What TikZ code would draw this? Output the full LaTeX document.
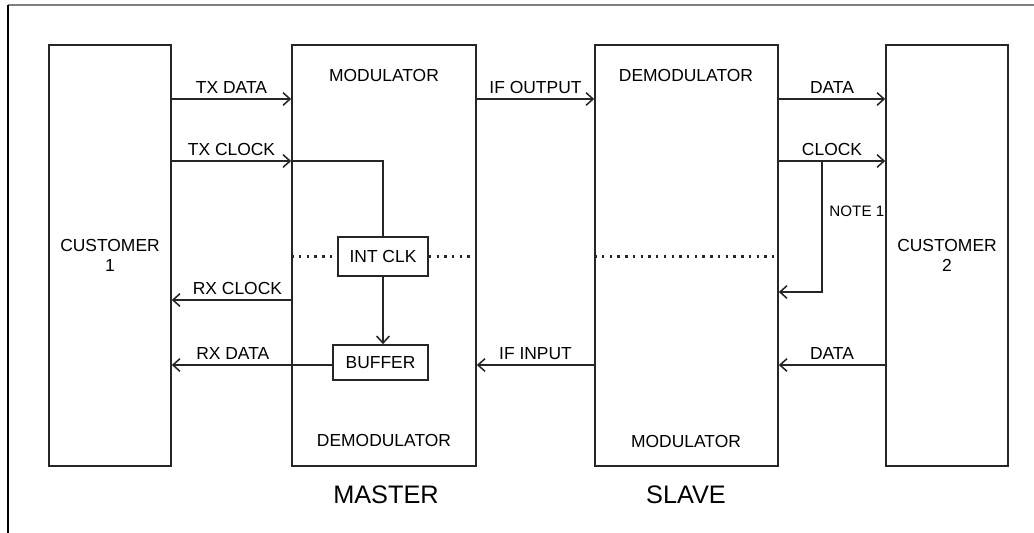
\documentclass[tikz,border=0pt]{standalone}
\usepackage{fontspec}
\setmainfont{Liberation Sans}
\usepackage{tikz}
\usetikzlibrary{arrows.meta, positioning, calc}

\begin{document}
\begin{tikzpicture}[x=0.025cm, y=-0.025cm,
    line width=1.1pt, black!85,
    >={Straight Barb[length=5pt,width=9pt]},
    block/.style={draw, minimum height=10.525cm, inner sep=0pt, align=center},
    smallbox/.style={draw, inner sep=0pt},
    lbl/.style={font=\fontsize{12.4}{14.5}\selectfont, text=black},
    big/.style={font=\fontsize{18}{21}\selectfont, text=black},
    dots/.style={line width=1.7pt, dash pattern=on 1.7pt off 3.8pt}]
  \useasboundingbox (0,0) rectangle (1034,533);

  % Frame
  \draw[gray, line width=0.9pt] (8,5) -- (1034,5);
  \draw[black, line width=0.9pt] (8,5) -- (8,533);

  % Signal levels
  \coordinate (txd) at (0,99);
  \coordinate (txc) at (0,161);
  \coordinate (rxc) at (0,300);
  \coordinate (rxd) at (0,365);
  \coordinate (ret) at (0,292);
  \coordinate (tap) at (822,161);

  % Main blocks
  \node[block, minimum width=3.05cm, lbl] (cust1) at (110,255.5) {CUSTOMER\\1};
  \node[block, minimum width=4.6cm] (master) at (384,255.5) {};
  \node[block, minimum width=4.575cm] (slave) at (686.5,255.5) {};
  \node[block, minimum width=3.05cm, lbl] (cust2) at (947,255.5) {CUSTOMER\\2};

  % Inner blocks
  \node[smallbox, minimum width=2.25cm, minimum height=0.975cm, lbl] (intclk) at (383,256.5) {INT CLK};
  \node[smallbox, minimum width=2.375cm, minimum height=0.875cm, lbl] (buffer) at (380.5,362.5) {BUFFER};

  % Block texts
  \node[lbl] (mmod) at (384,75) {MODULATOR};
  \node[lbl] (mdem) at (384,440) {DEMODULATOR};
  \node[lbl] (sdem) at (686,75) {DEMODULATOR};
  \node[lbl] (smod) at (686,441) {MODULATOR};
  \node[big] (mname) at (386,495) {MASTER};
  \node[big] (sname) at (686,495) {SLAVE};

  % Dotted division
  \draw[dots] (master.west|-intclk) -- (intclk.west);
  \draw[dots] (intclk.east) -- (master.east|-intclk);
  \draw[dots] (slave.west|-intclk) -- (slave.east|-intclk);

  % Customer 1 <-> master
  \draw[->] (cust1.east|-txd) -- node[above, lbl] {TX DATA} (master.west|-txd);
  \draw[->] (cust1.east|-txc) -- node[above, lbl] {TX CLOCK} (master.west|-txc);
  \draw (master.west|-txc) -- (intclk.north|-txc) -- (intclk.north);
  \draw[->] (intclk.south) -- (buffer.north-|intclk.south);
  \draw[->] (master.west|-rxc) -- node[above, lbl, pos=0.45] {RX CLOCK} (cust1.east|-rxc);
  \draw[->] (buffer.west|-rxd) -- node[above, lbl, pos=0.62] {RX DATA} (cust1.east|-rxd);

  % Master <-> slave
  \draw[->] (master.east|-txd) -- node[above, lbl] {IF OUTPUT} (slave.west|-txd);
  \draw[->] (slave.west|-rxd) -- node[above, lbl] {IF INPUT} (master.east|-rxd);

  % Slave <-> customer 2
  \draw[->] (slave.east|-txd) -- node[above, lbl] {DATA} (cust2.west|-txd);
  \draw[->] (slave.east|-txc) -- node[above, lbl] {CLOCK} (cust2.west|-txc);
  \draw[->] (tap) -- (tap|-ret) -- (slave.east|-ret);
  \node[right, lbl, font=\fontsize{10.8}{13}\selectfont] (note) at (824,211) {NOTE 1};
  \draw[->] (cust2.west|-rxd) -- node[above, lbl] {DATA} (slave.east|-rxd);
\end{tikzpicture}
\end{document}
